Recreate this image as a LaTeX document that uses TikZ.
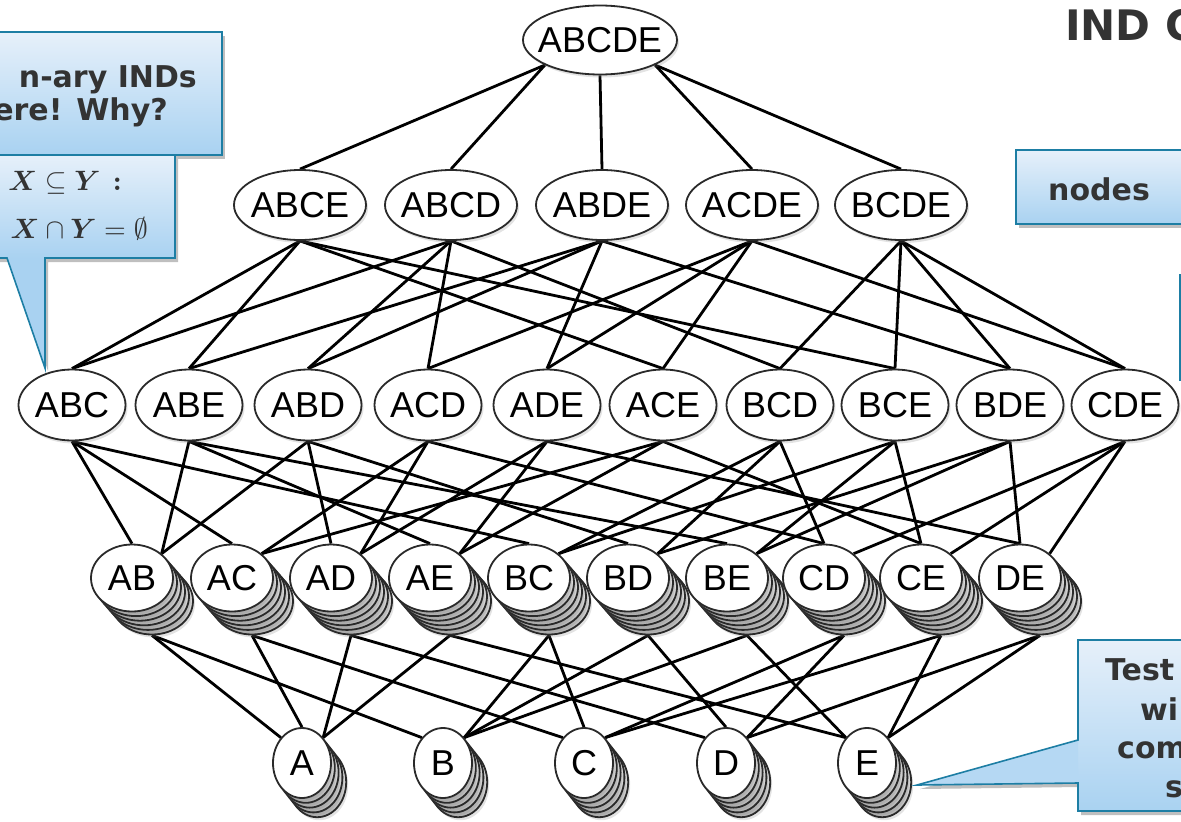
\documentclass[tikz,border=0pt]{standalone}
\usepackage{fontspec}
\usepackage{graphicx}
\usepackage{amsmath,amssymb,bm}
\setmainfont{Liberation Sans}
\newfontfamily\callfont{DejaVu Sans}
\usetikzlibrary{shapes.geometric,shadows}
\definecolor{cbtop}{HTML}{E6F0FA}
\definecolor{cbbot}{HTML}{A9D2F1}
\definecolor{cbord}{HTML}{1D7EA4}
\definecolor{ctext}{HTML}{333333}
\definecolor{ellb}{HTML}{2A2A2A}
\pgfdeclarelayer{bg}
\pgfsetlayers{bg,main}
\tikzset{
  ell/.style={ellipse, draw=ellb, line width=1.8pt, fill=white, inner sep=0pt,
    font=\fontsize{36}{36}\selectfont,
    drop shadow={shadow xshift=2pt, shadow yshift=-3pt, opacity=0.22}},
  lfive/.style={ell, minimum width=154pt, minimum height=69pt},
  lfour/.style={ell, minimum width=132pt, minimum height=70pt},
  lthree/.style={ell, minimum width=107pt, minimum height=71pt},
  ltwo/.style={ell, minimum width=82pt, minimum height=67pt},
  lone/.style={ell, minimum width=58pt, minimum height=70pt},
  cpytwo/.style={ltwo, top color=white, bottom color=gray!60},
  cpyone/.style={lone, top color=white, bottom color=gray!60},
  edge/.style={line width=2.8pt, black},
  callbox/.style={top color=cbtop, bottom color=cbbot, draw=none},
  callline/.style={draw=cbord, line width=1.6pt, line join=miter},
  callshadow/.style={fill=black, opacity=0.25},
  calltext/.style={font=\callfont\bfseries\fontsize{30}{34}\selectfont, text=ctext, inner sep=0pt},
  mathtext/.style={text=ctext, inner sep=0pt}
}
\begin{document}
\begin{tikzpicture}[x=1pt,y=-1pt]
\useasboundingbox (0,0) rectangle (1181,822);
\clip (0,0) rectangle (1181,822);

% ---------- title ----------
\node[font=\callfont\bfseries\fontsize{42}{44}\selectfont, text=ctext, inner sep=0pt, anchor=base west] (title) at (1065,40) {IND C};

% ---------- lattice nodes ----------
\node[lfive] (ABCDE) at (600,40) {\makebox[0pt]{ABCDE}};
\foreach \n/\x in {ABCE/300, ABCD/451, ABDE/602, ACDE/752, BCDE/901}
  \node[lfour] (\n) at (\x,205) {\makebox[0pt]{\n}};
\foreach \n/\x in {ABC/72, ABE/189, ABD/308, ACD/428, ADE/547, ACE/663, BCD/780, BCE/895, BDE/1010, CDE/1125}
  \node[lthree] (\n) at (\x,405) {\makebox[0pt]{\n}};
\foreach \n/\x in {AB/132, AC/232, AD/331, AE/430, BC/529, BD/628, BE/727, CD/824, CE/921, DE/1020}{
  \foreach \k in {5,4,3,2,1}
    \node[cpytwo] (\n-\k) at ({\x+4*\k},{578+4.6*\k}) {};
  \node[ltwo] (\n) at (\x,578) {\makebox[0pt]{\n}};
}
\foreach \n/\x in {A/302, B/443, C/584, D/726, E/867}{
  \foreach \k in {4,3,2,1}
    \node[cpyone] (\n-\k) at ({\x+3.8*\k},{763+4.8*\k}) {};
  \node[lone] (\n) at (\x,763) {\makebox[0pt]{\n}};
}

% ---------- connectors ----------
\begin{pgfonlayer}{bg}
\draw[edge] (ABCDE.south west) -- (ABCE.north);
\draw[edge] (ABCDE.south west) -- (ABCD.north);
\draw[edge] (ABCDE.south) -- (ABDE.north);
\draw[edge] (ABCDE.south east) -- (ACDE.north);
\draw[edge] (ABCDE.south east) -- (BCDE.north);
\foreach \s/\t in {ABCE/ABC, ABCE/ABE, ABCE/ACE, ABCE/BCE,
                   ABCD/ABC, ABCD/ABD, ABCD/ACD, ABCD/BCD,
                   ABDE/ABD, ABDE/ABE, ABDE/ADE, ABDE/BDE,
                   ACDE/ACD, ACDE/ACE, ACDE/ADE, ACDE/CDE,
                   BCDE/BCD, BCDE/BCE, BCDE/BDE, BCDE/CDE}
  \draw[edge] (\s.south) -- (\t.north);
\foreach \s/\t/\a in {ABC/AB/north, ABC/AC/north, ABC/BC/north,
                   ABE/AB/north east, ABE/AE/north, ABE/BE/north,
                   ABD/AB/north east, ABD/AD/north, ABD/BD/north,
                   ACD/AC/north east, ACD/AD/north east, ACD/CD/north,
                   ADE/AD/north east, ADE/AE/north east, ADE/DE/north,
                   ACE/AC/north east, ACE/AE/north east, ACE/CE/north,
                   BCD/BC/north east, BCD/BD/north east, BCD/CD/north,
                   BCE/BC/north east, BCE/BE/north east, BCE/CE/north,
                   BDE/BD/north east, BDE/BE/north east, BDE/DE/north,
                   CDE/CD/north east, CDE/CE/north east, CDE/DE/north east}
  \draw[edge] (\s.south) -- (\t.\a);
\foreach \s/\t/\a in {AB/A/north west, AC/A/north, AD/A/north east, AE/A/north east,
                      AB/B/north west, BC/B/north east, BD/B/north east, BE/B/north east,
                      AC/C/north west, BC/C/north, CD/C/north east, CE/C/north east,
                      AD/D/north west, BD/D/north, CD/D/north east, DE/D/north east,
                      AE/E/north west, BE/E/north west, CE/E/north east, DE/E/north east}
  \draw[edge] (\s-5.south) -- (\t.\a);
\end{pgfonlayer}

% ---------- left callouts ----------
\fill[callshadow] (-10,36) rectangle (225,159);
\fill[callbox] (-10,32) rectangle (222,155);
\draw[callline] (-10,32) -- (222,32) -- (222,155) -- (-10,155);
\node[calltext, anchor=base east] (lt1) at (197,87) {n-ary INDs};
\node[calltext, anchor=base east] (lt2) at (168,120) {ere! Why?};

\fill[callshadow] (-10,159) -- (178,159) -- (178,262) -- (48,262) -- (48,371) -- (10,262) -- (-10,262) -- cycle;
\fill[callbox] (-10,155) rectangle (175,258);
\fill[cbbot] (7,258) -- (45,368) -- (45,258) -- cycle;
\draw[callline] (-10,155) -- (175,155) -- (175,258) -- (45,258) -- (45,368) -- (7,258) -- (-10,258);
\node[mathtext, anchor=base east] (m1) at (122,190) {\scalebox{2.8}{$\bm{X}\subseteq\bm{Y}\,\bm{:}$}};
\node[mathtext, anchor=base east] (m2) at (148,238) {\scalebox{2.8}{$\bm{X}\cap\bm{Y}=\emptyset$}};

% ---------- right callouts ----------
\fill[callshadow] (1019,154) rectangle (1200,228);
\fill[callbox] (1016,150) rectangle (1200,224);
\draw[callline] (1200,150) -- (1016,150) -- (1016,224) -- (1200,224);
\node[calltext, anchor=base west] (nodes) at (1048,200) {nodes};

\fill[callbox] (1180,275) rectangle (1220,380);
\draw[callline] (1220,275) -- (1180,275) -- (1180,380) -- (1220,380);

\fill[callshadow] (1081,644) -- (1200,644) -- (1200,815) -- (1081,815) -- (1081,787) -- (920,789) -- (1081,744) -- cycle;
\fill[callbox] (1078,640) rectangle (1200,811);
\fill[cbbot!80!cbtop] (1078,740) -- (917,785) -- (1078,783) -- cycle;
\draw[callline] (1200,640) -- (1078,640) -- (1078,740) -- (917,785) -- (1078,783) -- (1078,811) -- (1200,811);
\node[calltext, anchor=base west] (r1) at (1105,680) {Test};
\node[calltext, anchor=base west] (r2) at (1140,720) {wi};
\node[calltext, anchor=base west] (r3) at (1117,758) {com};
\node[calltext, anchor=base west] (r4) at (1165,797) {s};
\end{tikzpicture}
\end{document}
